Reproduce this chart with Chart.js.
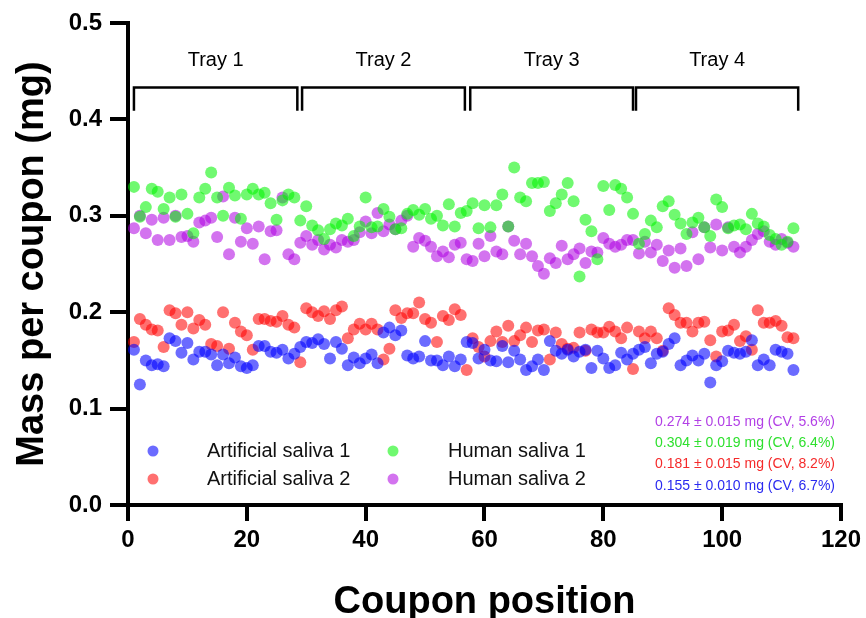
<!DOCTYPE html>
<html>
<head>
<meta charset="utf-8">
<script src="https://cdn.jsdelivr.net/npm/chart.js@4.4.0/dist/chart.umd.min.js"></script>
<style>
  html, body { margin: 0; padding: 0; background: #fff; }
  #wrap { width: 866px; height: 618px; }
</style>
</head>
<body>
<div id="wrap"><canvas id="massChart"></canvas></div>
<script>
// coupon positions 1..112
const couponPositions = Array.from({ length: 112 }, (_, i) => i + 1);

// mass per coupon (mg)
const artificialSaliva1 = [
  0.161, 0.125, 0.150, 0.145, 0.146, 0.144, 0.173, 0.170, 0.158, 0.168,
  0.151, 0.159, 0.159, 0.156, 0.145, 0.156, 0.147, 0.153, 0.144, 0.142,
  0.145, 0.165, 0.165, 0.159, 0.158, 0.161, 0.152, 0.157, 0.164, 0.169,
  0.168, 0.172, 0.167, 0.152, 0.169, 0.162, 0.145, 0.153, 0.147, 0.152,
  0.156, 0.147, 0.179, 0.184, 0.176, 0.181, 0.155, 0.152, 0.154, 0.170,
  0.150, 0.150, 0.145, 0.154, 0.144, 0.151, 0.169, 0.168, 0.152, 0.161,
  0.150, 0.149, 0.165, 0.148, 0.160, 0.151, 0.140, 0.144, 0.151, 0.140,
  0.170, 0.160, 0.157, 0.161, 0.154, 0.159, 0.161, 0.142, 0.160, 0.152,
  0.142, 0.145, 0.158, 0.151, 0.157, 0.161, 0.164, 0.147, 0.157, 0.159,
  0.167, 0.173, 0.145, 0.150, 0.155, 0.150, 0.157, 0.127, 0.145, 0.149,
  0.160, 0.158, 0.157, 0.159, 0.171, 0.145, 0.151, 0.145, 0.161, 0.159,
  0.157, 0.140
];
const artificialSaliva2 = [
  0.169, 0.193, 0.187, 0.182, 0.181, 0.164, 0.202, 0.199, 0.187, 0.200,
  0.183, 0.192, 0.187, 0.167, 0.165, 0.200, 0.162, 0.189, 0.180, 0.176,
  0.161, 0.193, 0.193, 0.191, 0.190, 0.196, 0.187, 0.184, 0.148, 0.204,
  0.200, 0.196, 0.201, 0.193, 0.202, 0.206, 0.173, 0.182, 0.188, 0.182,
  0.188, 0.182, 0.151, 0.162, 0.202, 0.194, 0.199, 0.199, 0.210, 0.193,
  0.189, 0.169, 0.196, 0.192, 0.203, 0.197, 0.140, 0.173, 0.164, 0.154,
  0.170, 0.180, 0.169, 0.186, 0.170, 0.176, 0.184, 0.169, 0.181, 0.182,
  0.151, 0.179, 0.167, 0.162, 0.163, 0.179, 0.160, 0.182, 0.179, 0.179,
  0.185, 0.180, 0.173, 0.184, 0.141, 0.180, 0.173, 0.180, 0.173, 0.160,
  0.204, 0.197, 0.189, 0.189, 0.180, 0.189, 0.190, 0.171, 0.154, 0.180,
  0.181, 0.187, 0.170, 0.175, 0.161, 0.202, 0.189, 0.189, 0.191, 0.186,
  0.174, 0.173
];
const humanSaliva1 = [
  0.330, 0.299, 0.309, 0.328, 0.325, 0.307, 0.319, 0.299, 0.322, 0.302,
  0.282, 0.319, 0.328, 0.345, 0.319, 0.300, 0.329, 0.321, 0.297, 0.322,
  0.328, 0.322, 0.324, 0.313, 0.296, 0.316, 0.322, 0.319, 0.295, 0.310,
  0.290, 0.285, 0.276, 0.286, 0.292, 0.290, 0.297, 0.279, 0.289, 0.319,
  0.288, 0.289, 0.307, 0.299, 0.286, 0.287, 0.302, 0.306, 0.301, 0.307,
  0.297, 0.300, 0.290, 0.312, 0.289, 0.303, 0.305, 0.313, 0.287, 0.311,
  0.288, 0.311, 0.322, 0.289, 0.350, 0.319, 0.315, 0.334, 0.334, 0.335,
  0.305, 0.313, 0.322, 0.334, 0.315, 0.237, 0.296, 0.284, 0.255, 0.331,
  0.306, 0.332, 0.328, 0.319, 0.302, 0.271, 0.281, 0.295, 0.288, 0.310,
  0.315, 0.301, 0.292, 0.281, 0.293, 0.298, 0.288, 0.279, 0.317, 0.309,
  0.287, 0.290, 0.291, 0.286, 0.302, 0.292, 0.289, 0.280, 0.276, 0.270,
  0.273, 0.287
];
const humanSaliva2 = [
  0.287, 0.300, 0.282, 0.296, 0.275, 0.298, 0.275, 0.300, 0.278, 0.279,
  0.273, 0.293, 0.295, 0.298, 0.278, 0.320, 0.260, 0.298, 0.273, 0.287,
  0.271, 0.289, 0.255, 0.284, 0.285, 0.319, 0.260, 0.255, 0.272, 0.279,
  0.270, 0.275, 0.265, 0.270, 0.267, 0.275, 0.273, 0.275, 0.283, 0.294,
  0.282, 0.303, 0.284, 0.291, 0.286, 0.295, 0.300, 0.268, 0.277, 0.274,
  0.268, 0.258, 0.263, 0.257, 0.270, 0.272, 0.255, 0.253, 0.271, 0.258,
  0.279, 0.263, 0.260, 0.289, 0.274, 0.260, 0.271, 0.258, 0.248, 0.240,
  0.256, 0.251, 0.269, 0.255, 0.260, 0.266, 0.251, 0.263, 0.262, 0.277,
  0.271, 0.268, 0.270, 0.275, 0.275, 0.261, 0.273, 0.262, 0.270, 0.253,
  0.264, 0.246, 0.266, 0.248, 0.283, 0.255, 0.288, 0.267, 0.291, 0.264,
  0.288, 0.268, 0.262, 0.268, 0.275, 0.281, 0.284, 0.273, 0.270, 0.276,
  0.272, 0.268
];

// trays (in coupon-position units)
const trayLabels = ["Tray 1", "Tray 2", "Tray 3", "Tray 4"];
const trayStart = [1, 29.3, 57.6, 85.5];
const trayEnd = [28.5, 56.7, 85.0, 112.8];

// summary lines, top to bottom
const statLines = [
  "0.274 \u00b1 0.015 mg (CV, 5.6%)",
  "0.304 \u00b1 0.019 mg (CV, 6.4%)",
  "0.181 \u00b1 0.015 mg (CV, 8.2%)",
  "0.155 \u00b1 0.010 mg (CV, 6.7%)"
];
const statColors = ["#b23fe6", "#2ee02e", "#f52a2a", "#2a2af0"];

const FONT = "'Liberation Sans', Arial, sans-serif";

const toPoints = (vals) => vals.map((v, i) => ({ x: couponPositions[i], y: v }));

// tray brackets + labels
const trayPlugin = {
  id: "trays",
  afterDatasetsDraw(chart) {
    const { ctx, scales } = chart;
    const xs = scales.x, ys = scales.y;
    const yTop = ys.getPixelForValue(0.433);
    const yBot = ys.getPixelForValue(0.409);
    const yLab = ys.getPixelForValue(0.461);
    ctx.save();
    ctx.strokeStyle = "#000";
    ctx.lineWidth = 2.5;
    ctx.fillStyle = "#000";
    ctx.font = "20px " + FONT;
    ctx.textAlign = "center";
    ctx.textBaseline = "middle";
    trayLabels.forEach((lab, i) => {
      const x1 = xs.getPixelForValue(trayStart[i]);
      const x2 = xs.getPixelForValue(trayEnd[i]);
      ctx.beginPath();
      ctx.moveTo(x1, yBot);
      ctx.lineTo(x1, yTop);
      ctx.lineTo(x2, yTop);
      ctx.lineTo(x2, yBot);
      ctx.stroke();
      ctx.fillText(lab, (x1 + x2) / 2, yLab);
    });
    ctx.restore();
  }
};

// legend inside the plot + stats text
const legendPlugin = {
  id: "insideLegend",
  afterDatasetsDraw(chart) {
    const { ctx } = chart;
    const ds = chart.data.datasets;
    // column-major: col 0 = artificial, col 1 = human
    const slots = [
      { d: 0, dotX: 153, textX: 207, y: 451 },
      { d: 1, dotX: 153, textX: 207, y: 479 },
      { d: 2, dotX: 393, textX: 448, y: 451 },
      { d: 3, dotX: 393, textX: 448, y: 479 }
    ];
    ctx.save();
    ctx.font = "20px " + FONT;
    ctx.textBaseline = "middle";
    ctx.textAlign = "left";
    slots.forEach((s) => {
      ctx.fillStyle = ds[s.d].backgroundColor;
      ctx.beginPath();
      ctx.arc(s.dotX, s.y, 5.5, 0, Math.PI * 2);
      ctx.fill();
      ctx.fillStyle = "#111";
      ctx.fillText(ds[s.d].label, s.textX, s.y);
    });

    ctx.font = "14px " + FONT;
    ctx.textAlign = "right";
    statLines.forEach((t, i) => {
      ctx.fillStyle = statColors[i];
      ctx.fillText(t, 835, 422 + i * 21.3);
    });
    ctx.restore();
  }
};

new Chart(document.getElementById("massChart"), {
  type: "scatter",
  data: {
    datasets: [
      { label: "Artificial saliva 1", data: toPoints(artificialSaliva1), backgroundColor: "rgba(0,0,255,0.58)" },
      { label: "Artificial saliva 2", data: toPoints(artificialSaliva2), backgroundColor: "rgba(255,0,0,0.56)" },
      { label: "Human saliva 1", data: toPoints(humanSaliva1), backgroundColor: "rgba(0,245,0,0.56)" },
      { label: "Human saliva 2", data: toPoints(humanSaliva2), backgroundColor: "rgba(175,0,225,0.55)" }
    ]
  },
  options: {
    responsive: true,
    maintainAspectRatio: false,
    animation: false,
    layout: { padding: { top: 23, right: 21, left: 0, bottom: 0 } },
    elements: { point: { radius: 6, borderWidth: 0, hoverRadius: 6 } },
    plugins: { legend: { display: false }, tooltip: { enabled: false } },
    scales: {
      x: {
        type: "linear",
        min: 0,
        max: 120,
        afterFit: (s) => { s.height = 113; },
        border: { display: true, color: "#000", width: 4 },
        grid: { drawOnChartArea: false, drawTicks: true, tickLength: 16, lineWidth: 4, color: "#000" },
        ticks: { stepSize: 20, padding: 5, color: "#000", font: { family: FONT, size: 24, weight: "bold" } },
        title: {
          display: true,
          text: "Coupon position",
          color: "#000",
          padding: { top: 0, bottom: -4 },
          font: { family: FONT, size: 38, weight: "bold", lineHeight: 1 }
        }
      },
      y: {
        min: 0,
        max: 0.5,
        afterFit: (s) => { s.width = 128; },
        border: { display: true, color: "#000", width: 4 },
        grid: { drawOnChartArea: false, drawTicks: true, tickLength: 18, lineWidth: 4, color: "#000" },
        ticks: {
          stepSize: 0.1,
          padding: 8,
          color: "#000",
          font: { family: FONT, size: 24, weight: "bold" },
          callback: (v) => v.toFixed(1)
        },
        title: {
          display: true,
          text: "Mass per coupon (mg)",
          color: "#000",
          padding: { top: 14, bottom: 0 },
          font: { family: FONT, size: 38, weight: "bold", lineHeight: 1 }
        }
      }
    }
  },
  plugins: [trayPlugin, legendPlugin]
});
</script>
</body>
</html>
